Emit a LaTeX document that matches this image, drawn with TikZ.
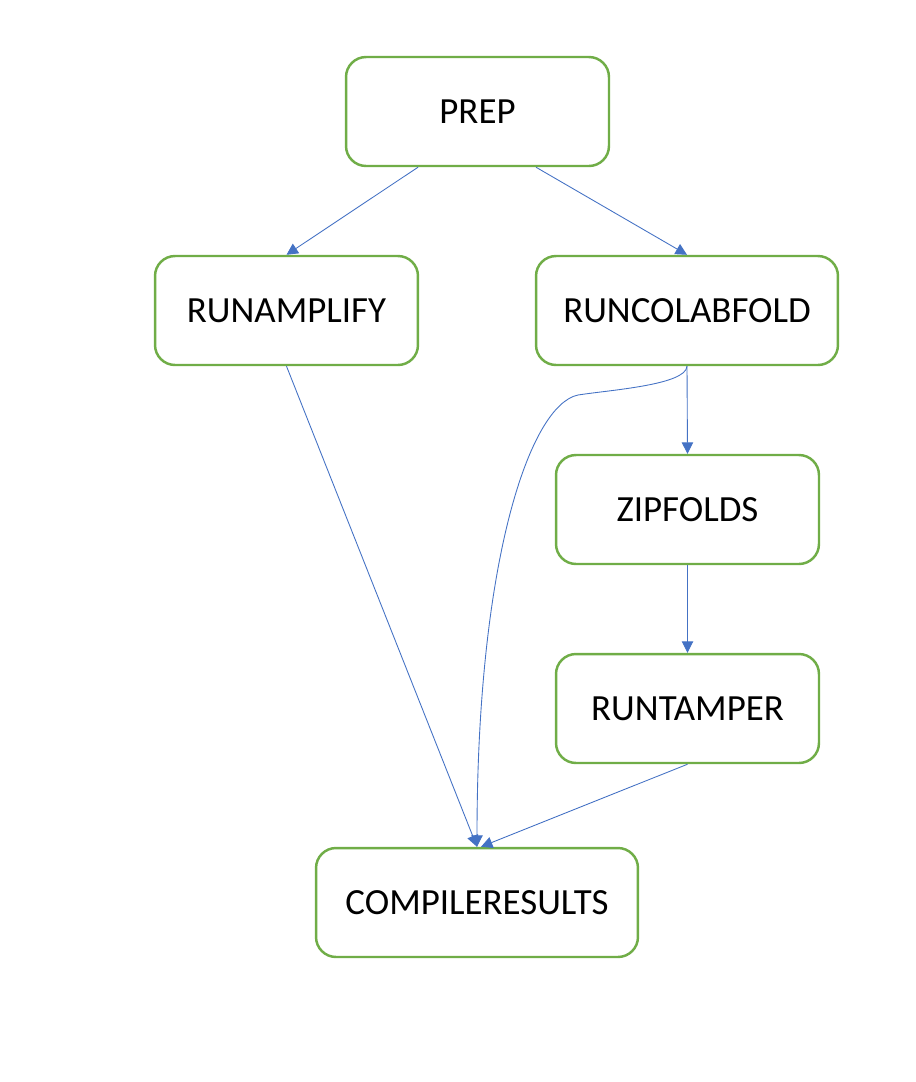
\documentclass[tikz,border=0pt]{standalone}
\usepackage{fontspec}
\setmainfont{Carlito}
\usetikzlibrary{arrows.meta}
\definecolor{boxgreen}{HTML}{70AD47}
\definecolor{flowblue}{HTML}{4472C4}
\tikzset{
  task/.style={draw=boxgreen,line width=1.4pt,rounded corners=0.4cm,fill=white,
    minimum width=5.26cm,minimum height=2.18cm,font=\fontsize{21}{25}\selectfont},
  flow/.style={draw=flowblue,line width=0.5pt,-{Triangle[length=6.5pt,width=6.5pt]}}
}
\begin{document}
\begin{tikzpicture}[x=0.02cm,y=-0.02cm]
    \useasboundingbox (0,0) rectangle (916,1082);
    \node[task] (prep) at (477.5,111.5) {PREP};
    \node[task] (amp) at (286.5,310.5) {RUNAMPLIFY};
    \node[task,minimum width=6.04cm] (colab) at (687,310.5) {RUNCOLABFOLD};
    \node[task] (zip) at (687.5,509.5) {ZIPFOLDS};
    \node[task] (tamper) at (687.5,708.5) {RUNTAMPER};
    \node[task,minimum width=6.44cm] (compile) at (477,902.5) {COMPILERESULTS};
    \draw[flow] ([xshift=-1.19cm]prep.south) -- (amp.north);
    \draw[flow] ([xshift=1.17cm]prep.south) -- (colab.north);
    \draw[flow] (amp.south) -- (compile.north);
    \draw[flow] (colab.south) .. controls (686,385) and (610,390) .. (578,395)
        .. controls (530,405) and (477,560) .. (compile.north);
    \draw[flow] (colab.south) -- (zip.north);
    \draw[flow] (zip.south) -- (tamper.north);
    \draw[flow] (tamper.south) -- ([xshift=0.08cm]compile.north);
\end{tikzpicture}
\end{document}
